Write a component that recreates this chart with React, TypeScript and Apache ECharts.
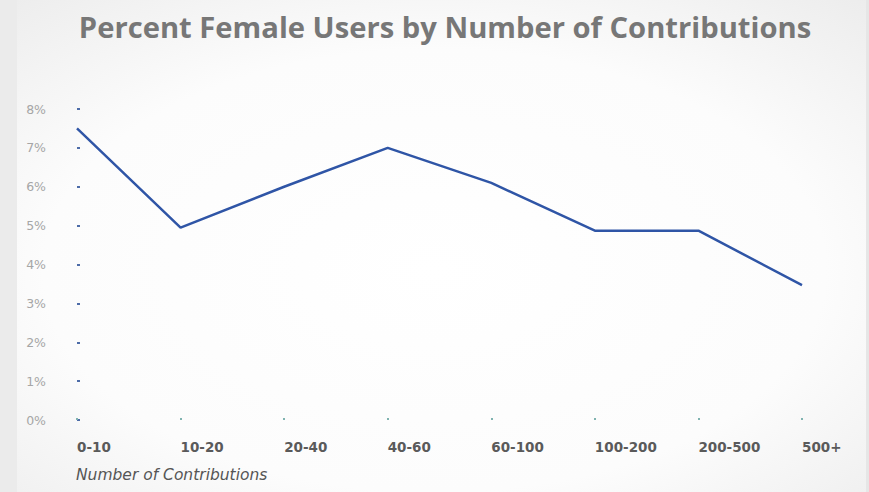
import React, { useEffect, useRef } from "react";
import * as echarts from "echarts";

const categories = ["0-10", "10-20", "20-40", "40-60", "60-100", "100-200", "200-500", "500+"];
const femalePercent = [7.5, 4.95, 6.0, 7.0, 6.1, 4.87, 4.87, 3.47];
const yTicks = [0, 1, 2, 3, 4, 5, 6, 7, 8];
const titleText = "Percent Female Users by Number of Contributions";
const xAxisTitle = "Number of Contributions";

export default function App() {
  const ref = useRef<HTMLDivElement>(null);
  useEffect(() => {
    document.body.style.margin = "0";
    const chart = echarts.init(ref.current!, null, { renderer: "svg" });
    chart.setOption({
      animation: false,
      backgroundColor: {
        type: "radial",
        x: 0.5,
        y: 0.55,
        r: 0.75,
        colorStops: [
          { offset: 0, color: "#ffffff" },
          { offset: 0.6, color: "#fcfcfc" },
          { offset: 1, color: "#ececec" },
        ],
      },
      title: {
        text: titleText,
        left: 440,
        top: 7,
        textAlign: "center",
        textStyle: {
          fontFamily: "Open Sans",
          fontWeight: "bold",
          fontSize: 29.2,
          color: "#777777",
        },
      },
      graphic: [
        {
          type: "rect",
          left: 0,
          top: 0,
          shape: { width: 17, height: 492 },
          style: { fill: "#ebebeb" },
          silent: true,
        },
        {
          type: "rect",
          right: 0,
          top: 0,
          shape: { width: 3, height: 492 },
          style: { fill: "#e6e6e6" },
          silent: true,
        },
        {
          type: "text",
          left: 76,
          top: 467,
          style: {
            text: xAxisTitle,
            fontFamily: "DejaVu Sans",
            fontStyle: "italic",
            fontSize: 15.5,
            fill: "#555555",
          },
        },
      ],
      grid: { left: 77, right: 67, top: 109, bottom: 72 },
      xAxis: {
        type: "category",
        data: categories,
        boundaryGap: false,
        axisLine: { show: false },
        axisTick: {
          show: true,
          alignWithLabel: true,
          inside: true,
          length: 2,
          lineStyle: { color: "#7fb3b0", width: 2 },
        },
        axisLabel: {
          align: "left",
          margin: 20,
          fontFamily: "DejaVu Sans",
          fontWeight: "bold",
          fontSize: 13.5,
          color: "#5a5a5a",
        },
        splitLine: { show: false },
      },
      yAxis: {
        type: "value",
        min: 0,
        max: 8,
        interval: 1,
        axisLine: { show: false },
        axisTick: {
          show: true,
          inside: true,
          length: 3,
          lineStyle: { color: "#4d6ca8", width: 2 },
        },
        splitLine: { show: false },
        axisLabel: {
          margin: 31,
          fontFamily: "DejaVu Sans",
          fontSize: 12.5,
          color: "#a6a6a6",
          formatter: (v: number) => (yTicks.includes(v) ? `${v}%` : ""),
        },
      },
      series: [
        {
          type: "line",
          data: femalePercent,
          showSymbol: false,
          lineStyle: { color: "#2f55a6", width: 2.5 },
        },
      ],
    });
    return () => chart.dispose();
  }, []);
  return <div ref={ref} style={{ width: 869, height: 492 }} />;
}
